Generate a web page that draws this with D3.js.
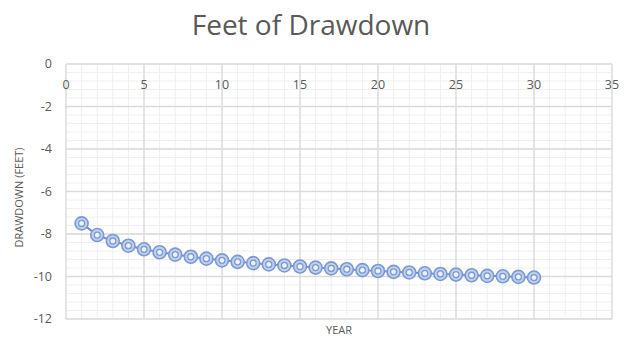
<!DOCTYPE html>
<html>
<head>
<meta charset="utf-8">
<script src="https://cdnjs.cloudflare.com/ajax/libs/d3/7.8.5/d3.min.js"></script>
<style>
  body { margin: 0; background: #fff; }
  text { font-family: "Open Sans", "Noto Sans", sans-serif; }
</style>
</head>
<body>
<div id="chart"></div>
<script>
// data
var years = [1,2,3,4,5,6,7,8,9,10,11,12,13,14,15,16,17,18,19,20,21,22,23,24,25,26,27,28,29,30];
var drawdown = [-7.5,-8.05,-8.33,-8.55,-8.72,-8.86,-8.97,-9.07,-9.16,-9.24,-9.31,-9.37,-9.43,-9.48,-9.53,
                -9.58,-9.62,-9.66,-9.70,-9.74,-9.78,-9.81,-9.85,-9.88,-9.91,-9.94,-9.97,-9.99,-10.02,-10.05];
var xTicks = [0,5,10,15,20,25,30,35];
var yTicks = [0,-2,-4,-6,-8,-10,-12];

var W = 633, H = 360;
var margin = {top: 64, right: 21, bottom: 41, left: 66},
    width = W - margin.left - margin.right,
    height = H - margin.top - margin.bottom;

var svg = d3.select("#chart").append("svg")
    .attr("width", W)
    .attr("height", H);

var g = svg.append("g")
    .attr("transform", "translate(" + margin.left + "," + margin.top + ")");

var x = d3.scaleLinear().domain([0, 35]).range([0, width]);
var y = d3.scaleLinear().domain([-12, 0]).range([height, 0]);

// minor grid (Excel default: major / 5)
var xMinor = d3.range(0, 35.01, 1);
var yMinor = d3.range(-12, 0.01, 0.4);

g.selectAll(".xminor").data(xMinor).enter().append("line")
    .attr("x1", function(d){ return x(d); }).attr("x2", function(d){ return x(d); })
    .attr("y1", 0).attr("y2", height)
    .attr("stroke", "#efefef").attr("stroke-width", 1);
g.selectAll(".yminor").data(yMinor).enter().append("line")
    .attr("y1", function(d){ return y(d); }).attr("y2", function(d){ return y(d); })
    .attr("x1", 0).attr("x2", width)
    .attr("stroke", "#efefef").attr("stroke-width", 1);

// major grid
g.selectAll(".xmajor").data(xTicks).enter().append("line")
    .attr("x1", function(d){ return x(d); }).attr("x2", function(d){ return x(d); })
    .attr("y1", 0).attr("y2", height)
    .attr("stroke", "#dadada").attr("stroke-width", 1.3);
g.selectAll(".ymajor").data(yTicks).enter().append("line")
    .attr("y1", function(d){ return y(d); }).attr("y2", function(d){ return y(d); })
    .attr("x1", 0).attr("x2", width)
    .attr("stroke", "#dadada").attr("stroke-width", 1.3);

// tick labels
g.selectAll(".xlab").data(xTicks).enter().append("text")
    .attr("x", function(d){ return x(d); })
    .attr("y", y(0) + 25)
    .attr("text-anchor", "middle")
    .attr("font-size", 12.5)
    .attr("fill", "#595959")
    .text(function(d){ return d; });

g.selectAll(".ylab").data(yTicks).enter().append("text")
    .attr("x", -14)
    .attr("y", function(d){ return y(d) + 4; })
    .attr("text-anchor", "end")
    .attr("font-size", 12.5)
    .attr("fill", "#595959")
    .text(function(d){ return d === 0 ? "0" : "-" + Math.abs(d); });

// series line
var line = d3.line()
    .x(function(d, i){ return x(years[i]); })
    .y(function(d){ return y(d); });

g.append("path")
    .datum(drawdown)
    .attr("fill", "none")
    .attr("stroke", "#6a8fd0")
    .attr("stroke-width", 2)
    .attr("d", line);

// markers: concentric circles
var pts = g.selectAll(".pt").data(drawdown).enter().append("g")
    .attr("transform", function(d, i){ return "translate(" + x(years[i]) + "," + y(d) + ")"; });
pts.append("circle")
    .attr("r", 6.5)
    .attr("fill", "#c0d0ec")
    .attr("stroke", "#7b9ad4")
    .attr("stroke-width", 1.6);
pts.append("circle")
    .attr("r", 3)
    .attr("fill", "#eef2fa")
    .attr("stroke", "#7b9ad4")
    .attr("stroke-width", 1.3);

// titles
svg.append("text")
    .attr("x", 311)
    .attr("y", 35)
    .attr("text-anchor", "middle")
    .attr("font-size", 28)
    .attr("fill", "#595959")
    .text("Feet of Drawdown");

svg.append("text")
    .attr("x", margin.left + width / 2)
    .attr("y", 334)
    .attr("text-anchor", "middle")
    .attr("font-size", 11)
    .attr("fill", "#595959")
    .text("YEAR");

svg.append("text")
    .attr("transform", "translate(23," + (margin.top + height / 2 + 6) + ") rotate(-90)")
    .attr("text-anchor", "middle")
    .attr("font-size", 11)
    .attr("fill", "#595959")
    .text("DRAWDOWN (FEET)");
</script>
</body>
</html>
